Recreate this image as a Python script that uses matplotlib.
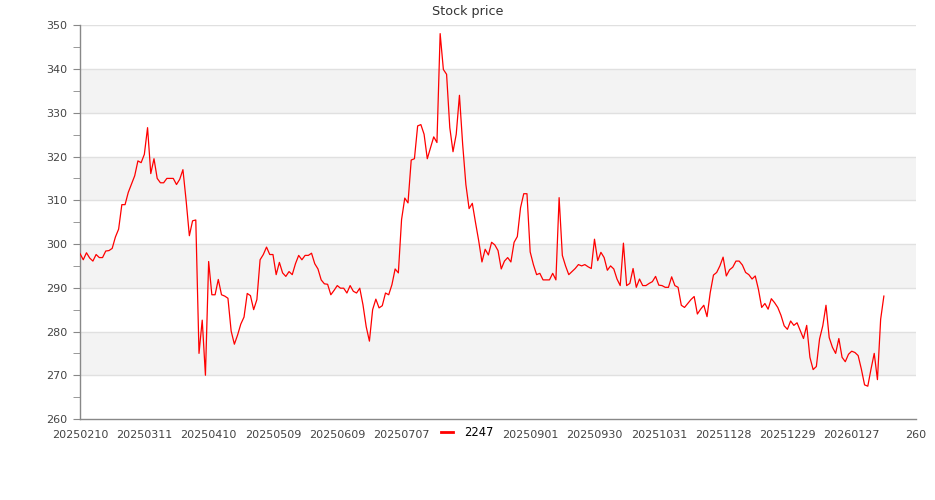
import matplotlib
matplotlib.use("Agg")
import matplotlib.pyplot as plt
import numpy as np

title = "Stock price"
series_name = "2247"

prices = [
    297.8, 296.4, 298.0, 296.8, 296.1, 297.6, 296.9, 296.9, 298.4, 298.5,
    299.0, 301.6, 303.4, 309.0, 309.0, 311.8, 313.7, 315.6, 319.0, 318.6,
    320.5, 326.6, 316.1, 319.5, 315.0, 314.0, 314.0, 315.0, 315.0, 315.0,
    313.6, 314.8, 317.0, 309.9, 301.9, 305.3, 305.5, 275.0, 282.6, 270.0,
    296.0, 288.4, 288.4, 291.9, 288.4, 288.1, 287.6, 280.1, 277.1, 279.2,
    281.7, 283.3, 288.7, 288.2, 285.0, 287.3, 296.4, 297.6, 299.3, 297.6,
    297.6, 293.0, 295.8, 293.4, 292.6, 293.7, 293.0, 295.5, 297.4, 296.4,
    297.4, 297.4, 297.9, 295.5, 294.3, 291.8, 290.9, 290.8, 288.4, 289.4,
    290.5, 289.9, 289.9, 288.8, 290.5, 289.2, 288.8, 289.9, 286.1, 281.1,
    277.8, 285.0, 287.4, 285.4, 285.9, 288.8, 288.4, 290.7, 294.3, 293.4,
    305.6, 310.5, 309.4, 319.2, 319.5, 327.0, 327.3, 325.1, 319.5, 322.0,
    324.5, 323.2, 348.1, 339.9, 338.8, 326.6, 321.1, 325.1, 334.0, 322.8,
    313.6, 308.1, 309.3, 304.9, 300.7, 295.9, 298.8, 297.5, 300.4, 299.8,
    298.5, 294.3, 296.1, 296.9, 295.9, 300.4, 301.7, 308.3, 311.5, 311.5,
    298.2, 295.3, 293.0, 293.3, 291.8, 291.8, 291.8, 293.3, 291.8, 310.6,
    297.4, 295.0, 293.0, 293.7, 294.4, 295.3, 295.0, 295.3, 294.8, 294.4,
    301.1, 296.2, 298.1, 296.9, 294.0, 295.0, 294.3, 292.0, 290.5, 300.2,
    290.5, 291.0, 294.4, 290.1, 292.0, 290.5, 290.5, 291.0, 291.4, 292.6,
    290.6, 290.5, 290.1, 290.1, 292.5, 290.5, 290.1, 286.0, 285.5, 286.4,
    287.3, 288.0, 284.0, 285.1, 286.0, 283.4, 288.9, 292.9, 293.5, 295.0,
    297.0, 292.7, 294.1, 294.7, 296.1, 296.1, 295.2, 293.5, 293.0, 292.0,
    292.7, 289.6, 285.5, 286.4, 285.1, 287.5, 286.6, 285.5, 283.7, 281.3,
    280.5, 282.4, 281.4, 282.0, 280.2, 278.4, 281.4, 274.1, 271.3, 272.0,
    278.3, 281.3, 286.0, 278.6, 276.4, 275.0, 278.4, 274.1, 273.1, 274.8,
    275.5, 275.2, 274.5, 271.4, 267.8, 267.5, 271.4, 275.0, 269.0, 282.8,
    288.1,
]

tick_positions = list(range(0, 261, 20))
tick_labels = ["20250210", "20250311", "20250410", "20250509", "20250609",
               "20250707", "20250804", "20250901", "20250930", "20251031",
               "20251128", "20251229", "20260127", "260"]
# label hidden behind the legend in the reference
hidden_label_index = 6

y_min, y_max, y_step = 260, 350, 10

fig = plt.figure(figsize=(9.35, 5.0), dpi=100)
ax = fig.add_axes([0.0856, 0.162, 0.9797 - 0.0856, 0.9494 - 0.162])

# alternating bands
for lo in range(y_min, y_max, y_step):
    if ((lo - y_min) // y_step) % 2 == 1:
        ax.axhspan(lo, lo + y_step, color="#f3f3f3", zorder=0, lw=0)
for yv in range(y_min + y_step, y_max + 1, y_step):
    ax.axhline(yv, color="#e0e0e0", lw=1, zorder=0.5)

x = np.arange(len(prices))
ax.plot(x, prices, color="#ff0000", lw=0.9, zorder=3, label=series_name)

ax.set_xlim(0, 260)
ax.set_ylim(y_min, y_max)
shown_labels = [("" if i == hidden_label_index else t) for i, t in enumerate(tick_labels)]
ax.set_xticks(tick_positions)
ax.set_xticklabels(shown_labels)
ax.set_yticks(range(y_min, y_max + 1, y_step))
ax.set_yticks(range(y_min + 5, y_max, y_step), minor=True)

for s in ["top", "right"]:
    ax.spines[s].set_visible(False)
for s in ["left", "bottom"]:
    ax.spines[s].set_color("#888888")
    ax.spines[s].set_linewidth(1)

ax.tick_params(axis="x", length=0, labelsize=8, labelcolor="#444444", pad=8)
ax.tick_params(axis="y", which="both", length=5, color="#888888",
               labelsize=8, labelcolor="#444444", pad=4)

fig.text(0.5, 1 - 12 / 500, title, ha="center", va="center",
         fontsize=9.2, color="#333333")

leg = fig.legend(loc="center", bbox_to_anchor=(0.5, 1 - 433 / 500),
                 frameon=True, fontsize=8.3, handlelength=1.0, handletextpad=1.0,
                 borderpad=0.2, borderaxespad=0)
leg.get_frame().set_facecolor("white")
leg.get_frame().set_edgecolor("white")
leg.get_frame().set_alpha(1)
for t in leg.get_texts():
    t.set_color("#000000")
for h in leg.get_lines():
    h.set_linewidth(2)

fig.savefig("out.png", dpi=100)
